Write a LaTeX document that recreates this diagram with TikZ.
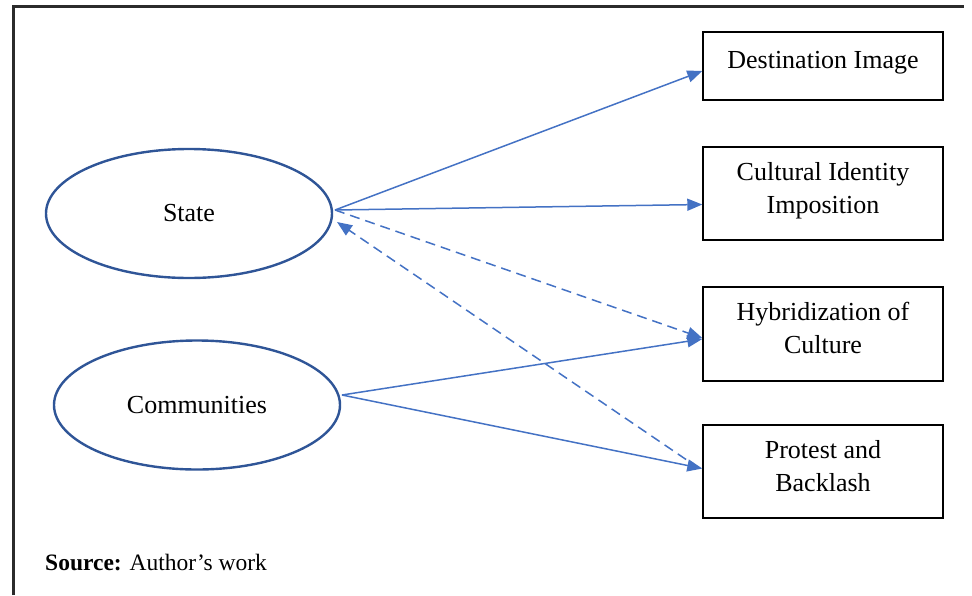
\documentclass[tikz,border=0pt]{standalone}
\usepackage{fontspec}
\setmainfont{Liberation Serif}
\usetikzlibrary{arrows.meta,shapes.geometric,calc}
\definecolor{linkblue}{HTML}{4472C4}
\definecolor{ringblue}{HTML}{2F5597}
\definecolor{framegray}{HTML}{2B2B2B}
\tikzset{
  oval/.style={ellipse, draw=ringblue, line width=2.4pt, minimum width=286pt, minimum height=129pt, inner sep=0pt, font=\fontsize{26}{32}\selectfont},
  outbox/.style={rectangle, draw=black, line width=1.4pt, minimum width=240pt, inner sep=0pt, text depth=12pt, align=center, font=\fontsize{26}{33}\selectfont},
  link/.style={draw=linkblue, line width=1.5pt, -{Triangle[length=15pt,width=12pt]}},
  dlink/.style={link, dash pattern=on 10pt off 6pt},
  frame/.style={draw=framegray, line width=3pt}
}
\begin{document}
\begin{tikzpicture}[x=1pt,y=-1pt]
\useasboundingbox (0,0) rectangle (972,595);
\coordinate (fa) at (13.5,595);
\coordinate (fb) at (13.5,6);
\coordinate (fc) at (964,6);
\draw[frame] (fa) -- (fb) -- (fc);

\node[oval] (st) at (189,213.5) {State};
\node[oval] (cm) at (197,405) {Communities};

\node[outbox, minimum height=68pt] (b1) at (823,66) {Destination Image};
\node[outbox, minimum height=93pt] (b2) at (823,193.5) {Cultural Identity\\Imposition};
\node[outbox, minimum height=94pt] (b3) at (823,334) {Hybridization of\\Culture};
\node[outbox, minimum height=93pt] (b4) at (823,471.5) {Protest and\\Backlash};

\coordinate (sout) at (335,210);
\coordinate (sin) at (337,222);
\coordinate (cout) at (342,395);

\draw[link] (sout) -- ($(b1.west)+(0,5)$);
\draw[link] (sout) -- ($(b2.west)+(0,11)$);
\draw[dlink] (sout) -- ($(b3.west)+(0,4)$);
\draw[dlink] ($(b4.west)+(-3,-3)$) -- (sin);
\draw[link] (cout) -- ($(b3.west)+(0,5)$);
\draw[link] (cout) -- ($(b4.west)+(0,-3)$);

\node[anchor=base west, font=\fontsize{23.5}{28}\selectfont, inner sep=0pt] (src) at (45,570) {\textbf{Source:} Author’s work};
\end{tikzpicture}
\end{document}
